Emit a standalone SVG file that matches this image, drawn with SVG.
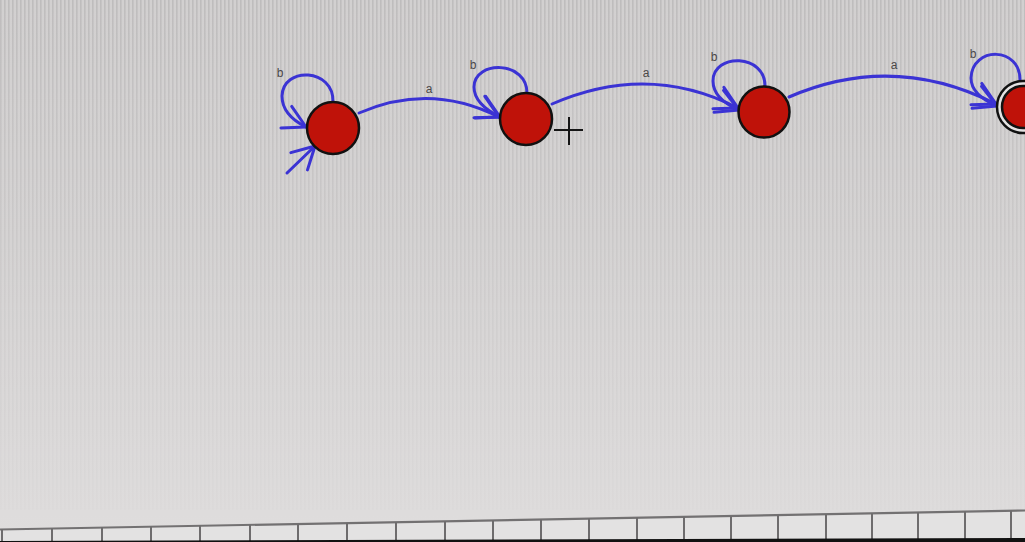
<svg xmlns="http://www.w3.org/2000/svg" width="1025" height="542" viewBox="0 0 1025 542">
  <defs>
    <linearGradient id="bg" x1="0" y1="0" x2="0" y2="1">
      <stop offset="0" stop-color="#d2d0d0"/>
      <stop offset="0.45" stop-color="#d5d3d3"/>
      <stop offset="1" stop-color="#dfdddd"/>
    </linearGradient>
    <pattern id="stripes" width="4" height="10" patternUnits="userSpaceOnUse">
      <rect x="0" y="0" width="1.6" height="10" fill="#9c9a9b"/>
    </pattern>
    <linearGradient id="fade" x1="0" y1="0" x2="0" y2="1">
      <stop offset="0" stop-color="#fff" stop-opacity="0.35"/>
      <stop offset="0.5" stop-color="#fff" stop-opacity="0.15"/>
      <stop offset="1" stop-color="#fff" stop-opacity="0.03"/>
    </linearGradient>
    <mask id="stripeMask">
      <rect x="0" y="0" width="1025" height="510" fill="url(#fade)"/>
    </mask>
    <marker id="arr" markerUnits="userSpaceOnUse" viewBox="-24 -14 28 28" refX="0" refY="0" markerWidth="28" markerHeight="28" orient="auto" overflow="visible">
      <path d="M -22 -12 L 0 0 L -22 12" fill="none" stroke="#3b33d4" stroke-width="3" stroke-linecap="round" stroke-linejoin="round"/>
    </marker>
    <style>
      .edge { fill: none; stroke: #3b33d4; stroke-width: 3; stroke-linecap: round; marker-end: url(#arr); }
      .state { fill: #bf1209; stroke: #111; stroke-width: 2.5; }
      .ring { fill: #e4e2e2; stroke: #111; stroke-width: 2.5; }
      .lbl { font-family: "Liberation Sans", Arial, sans-serif; font-size: 12px; fill: #4a4848; text-anchor: middle; }
      .tick { fill: none; stroke: #6e6c6d; stroke-width: 2; }
    </style>
  </defs>

  <rect x="0" y="0" width="1025" height="542" fill="url(#bg)"/>
  <rect x="0" y="0" width="1025" height="510" fill="url(#stripes)" mask="url(#stripeMask)"/>

  <g id="connectors">
    <path id="init" class="edge" d="M 287 173 L 315 146"/>
    <path id="loop1" class="edge" d="M 333 102 C 334 68, 283 66, 282 96 C 282 110, 292 120, 306 127"/>
    <path id="e12" class="edge" d="M 359 113 Q 430 82 499 117"/>
    <path id="loop2" class="edge" d="M 527 94 C 528 60, 474 60, 474 87 C 474 100, 486 110, 500 117"/>
    <path id="e23" class="edge" d="M 552 104 Q 648 62 738 108"/>
    <path id="loop3" class="edge" d="M 765 87 C 766 53, 713 53, 713 81 C 713 95, 725 104, 739 110"/>
    <path id="e34" class="edge" d="M 789 97 Q 893 52 996 104"/>
    <path id="loop4" class="edge" d="M 1020 81 C 1021 46, 972 46, 971 78 C 971 92, 983 100, 997 106"/>
    <text class="lbl" x="280" y="77">b</text>
    <text class="lbl" x="429" y="93">a</text>
    <text class="lbl" x="473" y="69">b</text>
    <text class="lbl" x="646" y="77">a</text>
    <text class="lbl" x="714" y="61">b</text>
    <text class="lbl" x="894" y="69">a</text>
    <text class="lbl" x="973" y="58">b</text>
  </g>

  <g id="q0"><circle class="state" cx="333" cy="128" r="26"/></g>
  <g id="q1"><circle class="state" cx="526" cy="119" r="26"/></g>
  <g id="q2"><circle class="state" cx="764" cy="112" r="25.5"/></g>
  <g id="q3">
    <circle class="ring" cx="1023" cy="107" r="26"/>
    <circle class="state" cx="1023" cy="107" r="21"/>
  </g>

  <g id="cursor" stroke="#151515" stroke-width="2">
    <line x1="554" y1="130" x2="583" y2="130"/>
    <line x1="569" y1="117" x2="569" y2="145"/>
  </g>

  <g id="bottom-strip">
    <polygon points="0,529.5 1025,510.5 1025,542 0,542" fill="#e3e2e2"/>
    <line x1="0" y1="529.5" x2="1025" y2="510.5" stroke="#737172" stroke-width="2.2"/>
    <path class="tick" d="M2 529.5V542 M52 528.5V542 M102 527.6V542 M151 526.7V542 M200 525.8V542 M250 524.9V542 M298 524V542 M347 523.1V542 M396 522.2V542 M445 521.3V542 M493 520.4V542 M541 519.5V542 M589 518.6V542 M637 517.7V542 M684 516.8V542 M731 516V542 M778 515.1V542 M826 514.2V542 M872 513.3V542 M918 512.5V542 M965 511.6V542 M1011 510.8V542"/>
    <polygon points="0,541 1025,538 1025,542 0,542" fill="#111"/>
  </g>
</svg>
